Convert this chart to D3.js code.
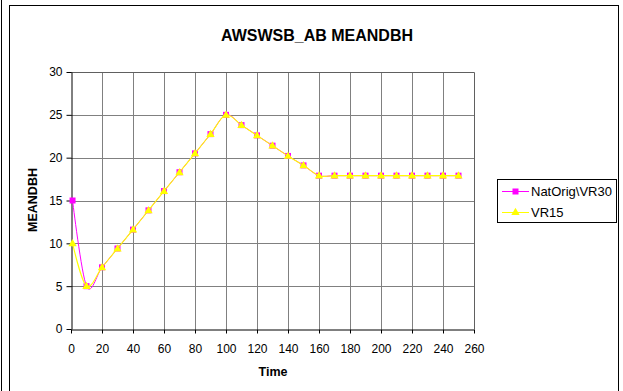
<!DOCTYPE html>
<html>
<head>
<meta charset="utf-8">
<script src="https://cdn.jsdelivr.net/npm/d3@7/dist/d3.min.js"></script>
<style>
  html, body { margin: 0; padding: 0; background: #fff; }
  svg { display: block; font-family: "Liberation Sans", Arial, sans-serif; }
</style>
</head>
<body>
<svg id="chart" width="623" height="391"></svg>
<script>
// Data
const times = [1, 10, 20, 30, 40, 50, 60, 70, 80, 90, 100, 110, 120, 130, 140, 150, 160, 170, 180, 190, 200, 210, 220, 230, 240, 250];
const natOrigVR30 = [15, 5, 7.2, 9.4, 11.6, 13.85, 16.1, 18.3, 20.5, 22.75, 25, 23.8, 22.6, 21.4, 20.2, 19.1, 17.9, 17.9, 17.9, 17.9, 17.9, 17.9, 17.9, 17.9, 17.9, 17.9];
const vr15 = [10, 5, 7.2, 9.4, 11.6, 13.85, 16.1, 18.3, 20.5, 22.75, 25, 23.8, 22.6, 21.4, 20.2, 19.1, 17.9, 17.9, 17.9, 17.9, 17.9, 17.9, 17.9, 17.9, 17.9, 17.9];
const seriesNames = ["NatOrig\\VR30", "VR15"];
const xTicks = [0, 20, 40, 60, 80, 100, 120, 140, 160, 180, 200, 220, 240, 260];
const yTicks = [0, 5, 10, 15, 20, 25, 30];
const titleText = "AWSWSB_AB MEANDBH";
const xTitle = "Time";
const yTitle = "MEANDBH";

const FONT = "'Liberation Sans', Arial, sans-serif";
const svg = d3.select("#chart");

// Outer frames
svg.append("line").attr("x1", 1.5).attr("x2", 1.5).attr("y1", 0).attr("y2", 391)
  .attr("stroke", "#000").attr("stroke-width", 1);
svg.append("rect").attr("x", 9.5).attr("y", 5.5).attr("width", 609).attr("height", 400)
  .attr("fill", "#fff").attr("stroke", "#000").attr("stroke-width", 1);

const plot = { left: 71, right: 474, top: 72, bottom: 329 };
const x = d3.scaleLinear().domain([0, 260]).range([plot.left, plot.right]);
const y = d3.scaleLinear().domain([0, 30]).range([plot.bottom, plot.top]);

// Gridlines
const g = svg.append("g");
g.selectAll("line.vg").data(xTicks.filter(d => d > 0 && d < 260)).enter().append("line")
  .attr("x1", d => Math.round(x(d)) + 0.5).attr("x2", d => Math.round(x(d)) + 0.5)
  .attr("y1", plot.top).attr("y2", plot.bottom)
  .attr("stroke", "#808080").attr("stroke-width", 1);
g.selectAll("line.hg").data(yTicks.filter(d => d > 0 && d < 30)).enter().append("line")
  .attr("x1", plot.left).attr("x2", plot.right)
  .attr("y1", d => Math.round(y(d)) + 0.5).attr("y2", d => Math.round(y(d)) + 0.5)
  .attr("stroke", "#808080").attr("stroke-width", 1);
// Plot border top/right
g.append("path")
  .attr("d", `M${plot.left},${plot.top + 0.5}H${plot.right + 0.5}V${plot.bottom}`)
  .attr("fill", "none").attr("stroke", "#606060").attr("stroke-width", 1);

// Axes
const xAxis = d3.axisBottom(x).tickValues(xTicks).tickSize(4).tickPadding(11).tickSizeOuter(0);
const yAxis = d3.axisLeft(y).tickValues(yTicks).tickSize(5).tickPadding(4).tickSizeOuter(0);
const gx = svg.append("g").attr("transform", `translate(0,${plot.bottom + 0.5})`).call(xAxis);
const gy = svg.append("g").attr("transform", `translate(${plot.left + 0.5},0)`).call(yAxis);
[gx, gy].forEach(a => {
  a.select(".domain").attr("stroke", "#000");
  a.selectAll(".tick line").attr("stroke", "#000");
  a.selectAll("text").attr("font-size", 12).attr("fill", "#000").attr("font-family", FONT);
});

// Series
const curve = d3.curveCatmullRom.alpha(0);
const line = d3.line().x(d => x(d[0])).y(d => y(d[1])).curve(curve);
const s1 = times.map((t, i) => [t, natOrigVR30[i]]);
const s2 = times.map((t, i) => [t, vr15[i]]);

svg.append("path").datum(s1).attr("d", line)
  .attr("fill", "none").attr("stroke", "#FF00FF").attr("stroke-width", 1);
svg.selectAll("rect.m1").data(s1).enter().append("rect")
  .attr("x", d => x(d[0]) - 3).attr("y", d => y(d[1]) - 3)
  .attr("width", 6).attr("height", 6).attr("fill", "#FF00FF");

svg.append("path").datum(s2).attr("d", line)
  .attr("fill", "none").attr("stroke", "#FFFF00").attr("stroke-width", 1.1);
const tri = d3.symbol().type(d3.symbolTriangle).size(30);
svg.selectAll("path.m2").data(s2).enter().append("path")
  .attr("d", tri)
  .attr("transform", d => `translate(${x(d[0])},${y(d[1]) + 0.5})`)
  .attr("fill", "#FFFF00");

// Titles
svg.append("text").attr("x", 317).attr("y", 41).attr("text-anchor", "middle")
  .attr("font-size", 16).attr("font-weight", "bold").attr("font-family", FONT).text(titleText);
svg.append("text").attr("x", 273).attr("y", 376).attr("text-anchor", "middle")
  .attr("font-size", 12.5).attr("font-weight", "bold").attr("font-family", FONT).text(xTitle);
svg.append("text").attr("transform", `translate(37,200) rotate(-90)`).attr("text-anchor", "middle")
  .attr("font-size", 12.5).attr("font-weight", "bold").attr("font-family", FONT).text(yTitle);

// Legend
const lg = svg.append("g");
lg.append("rect").attr("x", 497.5).attr("y", 179.5).attr("width", 119).attr("height", 43)
  .attr("fill", "#fff").attr("stroke", "#000").attr("stroke-width", 1);
const legendRows = [
  { name: seriesNames[0], color: "#FF00FF", shape: "square", yy: 191 },
  { name: seriesNames[1], color: "#FFFF00", shape: "triangle", yy: 212 }
];
legendRows.forEach(r => {
  lg.append("line").attr("x1", 502).attr("x2", 529).attr("y1", r.yy + 0.5).attr("y2", r.yy + 0.5)
    .attr("stroke", r.color).attr("stroke-width", 1);
  if (r.shape === "square") {
    lg.append("rect").attr("x", 512.5).attr("y", r.yy - 2.5).attr("width", 6).attr("height", 6).attr("fill", r.color);
  } else {
    lg.append("path").attr("d", tri).attr("transform", `translate(515.5,${r.yy + 0.5})`).attr("fill", r.color);
  }
  lg.append("text").attr("x", 531).attr("y", r.yy + 4.5).attr("font-size", 13)
    .attr("font-family", FONT).text(r.name);
});
</script>
</body>
</html>
